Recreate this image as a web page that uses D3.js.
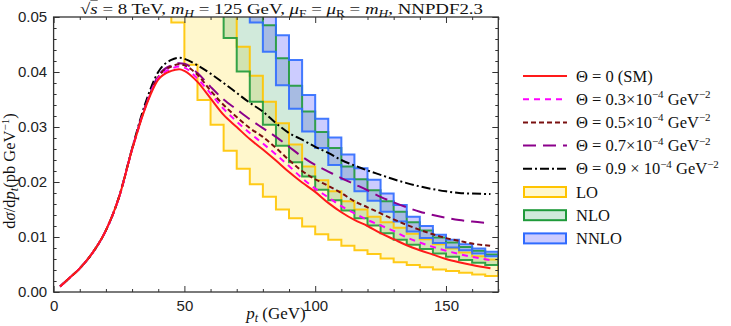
<!DOCTYPE html>
<html>
<head>
<meta charset="utf-8">
<script src="https://cdn.jsdelivr.net/npm/d3@7"></script>
<style>
  body { margin: 0; background: #fff; }
  svg text { font-family: "Liberation Serif", "DejaVu Serif", serif; fill: #111; }
  .axis text { font-family: "Liberation Sans", Arial, sans-serif; font-size: 15px; fill: #222; }
  .axis line { stroke: #333; }
</style>
</head>
<body>
<svg id="chart" width="731" height="326"></svg>
<script>
// histogram bins (GeV), each 5 GeV wide
const binStarts = [45, 50, 55, 60, 65, 70, 75, 80, 85, 90, 95, 100, 105, 110, 115, 120, 125, 130, 135, 140, 145, 150, 155, 160, 165];
const binWidth = 5;

// scale-variation bands (pb/GeV); values above 0.05 run off the top of the plot
const loLow = [0.0490, 0.0413, 0.0349, 0.0304, 0.0257, 0.0224, 0.0196, 0.0173, 0.0150, 0.0134, 0.0119, 0.0105, 0.0095, 0.0084, 0.0076, 0.0069, 0.0061, 0.0054, 0.0049, 0.0045, 0.0041, 0.0038, 0.0035, 0.0032, 0.0029];
const loHigh = [0.098, 0.083, 0.070, 0.061, 0.052, 0.0446, 0.0393, 0.0346, 0.0307, 0.0268, 0.0228, 0.0203, 0.0183, 0.0165, 0.0150, 0.0137, 0.0127, 0.0117, 0.0106, 0.0096, 0.0087, 0.0079, 0.0072, 0.0065, 0.0059];
const nloLow = [0.087, 0.073, 0.062, 0.054, 0.0462, 0.0401, 0.0346, 0.0304, 0.0266, 0.0236, 0.0210, 0.0186, 0.0167, 0.0148, 0.0134, 0.0121, 0.0107, 0.0095, 0.0086, 0.0078, 0.0070, 0.0064, 0.0058, 0.0053, 0.0049];
const nloHigh = [0.14, 0.12, 0.10, 0.087, 0.074, 0.062, 0.053, 0.0485, 0.0425, 0.0375, 0.0328, 0.0291, 0.0262, 0.0228, 0.0205, 0.0185, 0.0165, 0.0146, 0.0127, 0.0112, 0.0099, 0.0090, 0.0082, 0.0075, 0.0068];
const nnloLow = [0.11, 0.095, 0.083, 0.072, 0.063, 0.056, 0.0490, 0.0437, 0.0376, 0.0333, 0.0292, 0.0262, 0.0231, 0.0205, 0.0183, 0.0166, 0.0146, 0.0128, 0.0110, 0.0098, 0.0089, 0.0081, 0.0076, 0.0070, 0.0065];
const nnloHigh = [0.16, 0.14, 0.12, 0.10, 0.085, 0.072, 0.060, 0.053, 0.0467, 0.0422, 0.0358, 0.0315, 0.0281, 0.0250, 0.0225, 0.0204, 0.0179, 0.0158, 0.0137, 0.0120, 0.0104, 0.0095, 0.0087, 0.0079, 0.0073];

// smooth curves for different Theta
const ptCurve = [2.5, 5, 10, 15, 20, 25, 30, 35, 40, 45, 48, 50, 55, 60, 65, 70, 75, 80, 85, 90, 95, 100, 105, 110, 115, 120, 125, 130, 135, 140, 145, 150, 155, 160, 167];
const thetaSM = [0.0010, 0.0021, 0.0043, 0.0072, 0.0112, 0.0172, 0.0259, 0.0334, 0.0386, 0.0402, 0.0405, 0.0402, 0.0382, 0.0352, 0.0322, 0.0300, 0.0278, 0.0259, 0.0239, 0.0218, 0.0199, 0.0182, 0.0162, 0.0145, 0.0131, 0.0120, 0.0107, 0.0096, 0.0085, 0.0076, 0.0068, 0.0060, 0.0054, 0.0049, 0.0043];
const theta03 = [0.0010, 0.0021, 0.0043, 0.0072, 0.0112, 0.0172, 0.0259, 0.0335, 0.0389, 0.0406, 0.0410, 0.0408, 0.0388, 0.0361, 0.0333, 0.0310, 0.0289, 0.0270, 0.0250, 0.0229, 0.0207, 0.0188, 0.0172, 0.0156, 0.0143, 0.0131, 0.0121, 0.0111, 0.0099, 0.0090, 0.0082, 0.0075, 0.0069, 0.0064, 0.0058];
const theta05 = [0.0010, 0.0021, 0.0043, 0.0072, 0.0112, 0.0172, 0.0259, 0.0336, 0.0391, 0.0410, 0.0414, 0.0412, 0.0395, 0.0366, 0.0340, 0.0318, 0.0298, 0.0282, 0.0262, 0.0240, 0.0220, 0.0205, 0.0193, 0.0180, 0.0165, 0.0154, 0.0143, 0.0132, 0.0122, 0.0113, 0.0105, 0.0098, 0.0093, 0.0088, 0.0084];
const theta07 = [0.0010, 0.0021, 0.0043, 0.0072, 0.0112, 0.0172, 0.0260, 0.0337, 0.0393, 0.0412, 0.0416, 0.0415, 0.0398, 0.0373, 0.0350, 0.0332, 0.0314, 0.0298, 0.0282, 0.0264, 0.0246, 0.0231, 0.0219, 0.0207, 0.0196, 0.0185, 0.0173, 0.0163, 0.0154, 0.0146, 0.0140, 0.0135, 0.0131, 0.0128, 0.0125];
const theta09 = [0.0010, 0.0021, 0.0043, 0.0072, 0.0112, 0.0173, 0.0261, 0.0342, 0.0400, 0.0422, 0.0426, 0.0424, 0.0412, 0.0397, 0.0380, 0.0362, 0.0344, 0.0328, 0.0307, 0.0289, 0.0277, 0.0264, 0.0253, 0.0240, 0.0230, 0.0221, 0.0213, 0.0205, 0.0198, 0.0192, 0.0187, 0.0183, 0.0180, 0.0179, 0.0178];

const xTicks = [0, 50, 100, 150];
const yTicks = [0, 0.01, 0.02, 0.03, 0.04, 0.05];

const bands = [
  { name: 'LO', low: loLow, high: loHigh, fill: '#ffd700', fillOpacity: 0.2, stroke: '#ffc400' },
  { name: 'NLO', low: nloLow, high: nloHigh, fill: 'rgb(0,139,55)', fillOpacity: 0.18, stroke: '#1f9a3a' },
  { name: 'NNLO', low: nnloLow, high: nnloHigh, fill: '#0000ff', fillOpacity: 0.2, stroke: '#2f6bff' }
];

const curves = [
  { values: thetaSM, color: '#ff1a1a', dash: null, label: [['Θ = 0 (SM)']] },
  { values: theta03, color: '#ff00ff', dash: '6,5', label: [['Θ = 0.3×10'], ['−4', 'sup'], [' GeV'], ['−2', 'sup']] },
  { values: theta05, color: '#7a1010', dash: '5,3', label: [['Θ = 0.5×10'], ['−4', 'sup'], [' GeV'], ['−2', 'sup']] },
  { values: theta07, color: '#8b008b', dash: '13,7', label: [['Θ = 0.7×10'], ['−4', 'sup'], [' GeV'], ['−2', 'sup']] },
  { values: theta09, color: '#000000', dash: '9,3,2,3', label: [['Θ = 0.9 × 10'], ['−4', 'sup'], [' GeV'], ['−2', 'sup']] }
];

const svg = d3.select('#chart');
const plot = { left: 53.6, right: 498.3, top: 17, bottom: 292 };

const xScale = d3.scaleLinear().domain([0, 170]).range([plot.left, plot.right]);
const yScale = d3.scaleLinear().domain([0, 0.05]).range([plot.bottom, plot.top]);

svg.append('clipPath').attr('id', 'clip')
  .append('rect')
  .attr('x', plot.left).attr('y', plot.top)
  .attr('width', plot.right - plot.left).attr('height', plot.bottom - plot.top);

const g = svg.append('g').attr('clip-path', 'url(#clip)');

function stepRows(band) {
  return binStarts.flatMap((b, i) => [
    { pt: b, lo: band.low[i], hi: band.high[i] },
    { pt: b + binWidth, lo: band.low[i], hi: band.high[i] }
  ]);
}

const area = d3.area()
  .x(d => xScale(d.pt))
  .y0(d => yScale(d.lo))
  .y1(d => yScale(d.hi));

// fills first, outlines on top
g.selectAll('path.band-fill')
  .data(bands)
  .enter()
  .append('path')
  .attr('class', 'band-fill')
  .attr('d', d => area(stepRows(d)))
  .attr('fill', d => d.fill)
  .attr('fill-opacity', d => d.fillOpacity)
  .attr('stroke', 'none');

g.selectAll('path.band-line')
  .data(bands)
  .enter()
  .append('path')
  .attr('class', 'band-line')
  .attr('d', d => area(stepRows(d)))
  .attr('fill', 'none')
  .attr('stroke', d => d.stroke)
  .attr('stroke-width', 2)
  .attr('stroke-opacity', 0.9);

const line = d3.line()
  .x((d, i) => xScale(ptCurve[i]))
  .y(d => yScale(d))
  .curve(d3.curveMonotoneX);

// draw black first so the lower curves sit on top where they overlap
g.selectAll('path.curve')
  .data(curves.slice().reverse())
  .enter()
  .append('path')
  .attr('class', 'curve')
  .attr('d', d => line(d.values))
  .attr('fill', 'none')
  .attr('stroke', d => d.color)
  .attr('stroke-width', 2)
  .attr('stroke-dasharray', d => d.dash);

// frame + axes with inward ticks on all sides
svg.append('rect')
  .attr('x', plot.left).attr('y', plot.top)
  .attr('width', plot.right - plot.left).attr('height', plot.bottom - plot.top)
  .attr('fill', 'none').attr('stroke', '#333').attr('stroke-width', 1.3);

const xMinor = d3.range(0, 171, 10).filter(v => v % 50 !== 0);
const yMinor = d3.range(0, 0.0501, 0.002).filter(v => Math.abs(v * 100 - Math.round(v * 100)) > 1e-6);

function addAxis(axis, transform, hideLabels) {
  const a = svg.append('g').attr('class', 'axis').attr('transform', transform).call(axis);
  a.select('.domain').remove();
  if (hideLabels) a.selectAll('text').remove();
  return a;
}

addAxis(d3.axisBottom(xScale).tickValues(xTicks).tickSizeInner(-6).tickSizeOuter(0).tickPadding(8).tickFormat(d3.format('d')), `translate(0,${plot.bottom})`, false);
addAxis(d3.axisBottom(xScale).tickValues(xMinor).tickSizeInner(-3).tickSizeOuter(0), `translate(0,${plot.bottom})`, true);
addAxis(d3.axisTop(xScale).tickValues(xTicks).tickSizeInner(-6).tickSizeOuter(0), `translate(0,${plot.top})`, true);
addAxis(d3.axisTop(xScale).tickValues(xMinor).tickSizeInner(-3).tickSizeOuter(0), `translate(0,${plot.top})`, true);

addAxis(d3.axisLeft(yScale).tickValues(yTicks).tickSizeInner(-6).tickSizeOuter(0).tickPadding(6.5).tickFormat(d3.format('.2f')), `translate(${plot.left},0)`, false);
addAxis(d3.axisLeft(yScale).tickValues(yMinor).tickSizeInner(-3).tickSizeOuter(0), `translate(${plot.left},0)`, true);
addAxis(d3.axisRight(yScale).tickValues(yTicks).tickSizeInner(-6).tickSizeOuter(0), `translate(${plot.right},0)`, true);
addAxis(d3.axisRight(yScale).tickValues(yMinor).tickSizeInner(-3).tickSizeOuter(0), `translate(${plot.right},0)`, true);

// title
const title = svg.append('text')
  .attr('x', 80).attr('y', 14)
  .attr('font-size', 15.5)
  .attr('textLength', 403)
  .attr('lengthAdjust', 'spacingAndGlyphs');
title.append('tspan').text('√');
title.append('tspan').attr('font-style', 'italic').style('text-decoration', 'overline').text('s');
title.append('tspan').text(' = 8 TeV, ');
title.append('tspan').attr('font-style', 'italic').text('m');
title.append('tspan').attr('font-style', 'italic').attr('font-size', 11).attr('dy', 2.5).text('H');
title.append('tspan').attr('dy', -2.5).text(' = 125 GeV, ');
title.append('tspan').attr('font-style', 'italic').text('μ');
title.append('tspan').attr('font-size', 11).attr('dy', 2.5).text('F');
title.append('tspan').attr('dy', -2.5).text(' = ');
title.append('tspan').attr('font-style', 'italic').text('μ');
title.append('tspan').attr('font-size', 11).attr('dy', 2.5).text('R');
title.append('tspan').attr('dy', -2.5).text(' = ');
title.append('tspan').attr('font-style', 'italic').text('m');
title.append('tspan').attr('font-style', 'italic').attr('font-size', 11).attr('dy', 2.5).text('H');
title.append('tspan').attr('dy', -2.5).text(', NNPDF2.3');

// x axis label
const xLabel = svg.append('text')
  .attr('x', 276).attr('y', 319)
  .attr('text-anchor', 'middle')
  .attr('font-size', 17);
xLabel.append('tspan').attr('font-style', 'italic').text('p');
xLabel.append('tspan').attr('font-style', 'italic').attr('font-size', 12).attr('dy', 3).text('t');
xLabel.append('tspan').attr('dy', -3).text(' (GeV)');

// y axis label
const yLabel = svg.append('text')
  .attr('transform', 'translate(15,171) rotate(-90)')
  .attr('text-anchor', 'middle')
  .attr('font-size', 16.5);
yLabel.append('tspan').text('d');
yLabel.append('tspan').attr('font-style', 'italic').text('σ');
yLabel.append('tspan').text('/d');
yLabel.append('tspan').attr('font-style', 'italic').text('p');
yLabel.append('tspan').attr('font-style', 'italic').attr('font-size', 12).attr('dy', 3).text('t');
yLabel.append('tspan').attr('dy', -3).text('(pb GeV');
yLabel.append('tspan').attr('font-size', 11).attr('dy', -6).text('−1');
yLabel.append('tspan').attr('dy', 6).text(')');

// legend
const legendX = 523;
const legendTextX = 576;
const rowY = d3.range(8).map(i => 76 + i * 23.2);

const legend = svg.append('g');

curves.forEach((c, i) => {
  legend.append('line')
    .attr('x1', legendX).attr('x2', legendX + 44)
    .attr('y1', rowY[i]).attr('y2', rowY[i])
    .attr('stroke', c.color)
    .attr('stroke-width', 2)
    .attr('stroke-dasharray', c.dash);
  const t = legend.append('text')
    .attr('x', legendTextX).attr('y', rowY[i] + 5.5)
    .attr('font-size', 16.5);
  let lastSup = false;
  c.label.forEach(([s, kind]) => {
    if (kind === 'sup') {
      t.append('tspan').attr('font-size', 11).attr('dy', -6.5).text(s);
      lastSup = true;
    } else {
      t.append('tspan').attr('dy', lastSup ? 6.5 : 0).text(s);
      lastSup = false;
    }
  });
});

bands.forEach((b, j) => {
  const yy = rowY[5 + j];
  legend.append('rect')
    .attr('x', legendX + 1).attr('y', yy - 5)
    .attr('width', 42).attr('height', 10)
    .attr('fill', b.fill).attr('fill-opacity', b.fillOpacity)
    .attr('stroke', b.stroke).attr('stroke-width', 2);
  legend.append('text')
    .attr('x', legendTextX).attr('y', yy + 5.5)
    .attr('font-size', 16.5)
    .text(b.name);
});
</script>
</body>
</html>
